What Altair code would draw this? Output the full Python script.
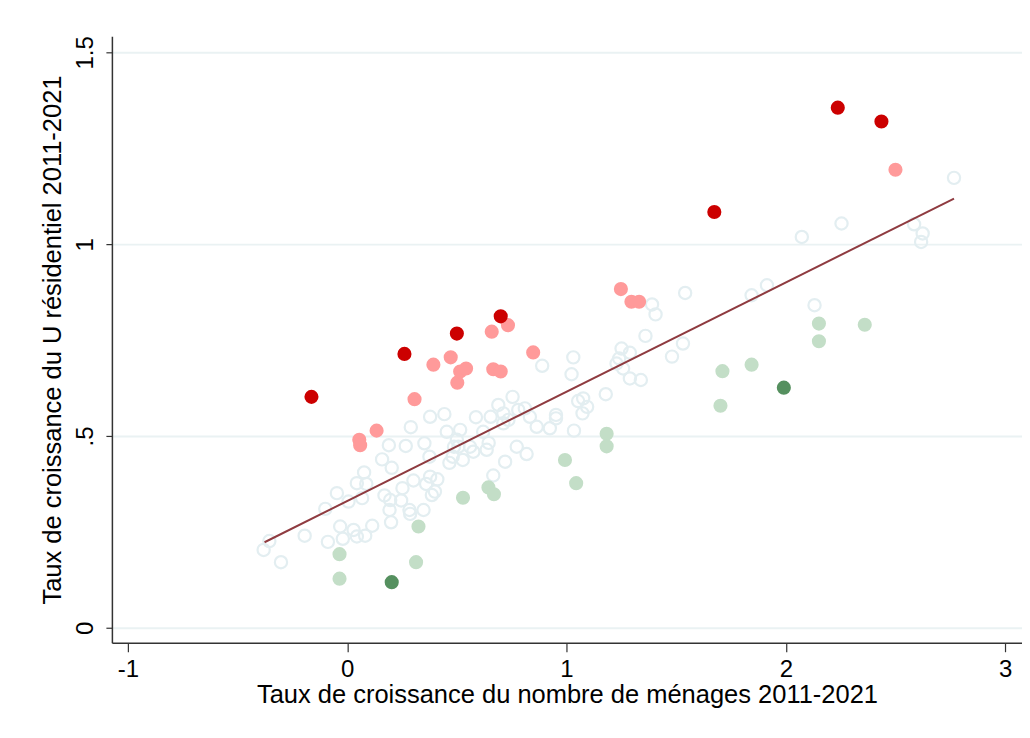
import altair as alt
import pandas as pd

# Open circles (other communes)
open_x = [-0.381, -0.355, -0.302, -0.194, -0.10, -0.088, -0.047, -0.032, -0.02, 0.006, 0.029, 0.044, 0.082,
          0.044, 0.077, 0.087, 0.068, 0.114, 0.159, 0.19, 0.203, 0.17, 0.196, 0.193, 0.20, 0.246, 0.252, 0.267,
          0.284, 0.287, 0.29, 0.302, 0.348, 0.352, 0.36, 0.375, 0.378, 0.411, 0.386, 0.40, 0.378, 0.443, 0.454,
          0.466, 0.481, 0.487, 0.507, 0.515, 0.50, 0.527, 0.56, 0.575, 0.587, 0.62, 0.636, 0.645, 0.654, 0.666,
          0.689, 0.712, 0.735, 0.712, 0.72, 0.754, 0.773, 0.78, 0.81, 0.833, 0.818, 0.864, 0.889, 0.924, 0.952,
          0.952, 1.034, 1.053, 1.076, 1.094, 1.073, 1.179, 1.031, 1.023, 1.251, 1.289, 1.24, 1.228, 1.258, 1.289,
          1.339, 1.36, 1.531, 1.481, 1.39, 1.406, 1.541, 1.914, 1.844, 2.131, 2.073, 2.254, 2.585, 2.624, 2.617,
          2.767]
open_y = [0.203, 0.226, 0.171, 0.240, 0.31, 0.224, 0.351, 0.264, 0.232, 0.329, 0.255, 0.238, 0.24,
          0.377, 0.405, 0.375, 0.338, 0.266, 0.439, 0.476, 0.417, 0.345, 0.333, 0.307, 0.275, 0.332, 0.364, 0.474,
          0.307, 0.297, 0.523, 0.384, 0.307, 0.481, 0.375, 0.446, 0.394, 0.387, 0.346, 0.355, 0.55, 0.557, 0.511,
          0.43, 0.446, 0.472, 0.472, 0.516, 0.49, 0.4375, 0.472, 0.459, 0.549, 0.511, 0.464, 0.482, 0.55, 0.397,
          0.581, 0.559, 0.542, 0.533, 0.433, 0.602, 0.472, 0.568, 0.572, 0.55, 0.453, 0.524, 0.683, 0.52, 0.555,
          0.546, 0.514, 0.591, 0.598, 0.576, 0.559, 0.609, 0.705, 0.661, 0.728, 0.717, 0.702, 0.689, 0.676, 0.650,
          0.646, 0.761, 0.741, 0.707, 0.843, 0.817, 0.873, 0.893, 0.867, 0.841, 1.019, 1.054, 1.052, 1.028, 1.006,
          1.173]

# Light green (below the line)
lgreen_x = [-0.035, -0.035, 0.314, 0.325, 0.528, 0.644, 0.669, 0.993, 1.044, 1.183, 1.183, 1.702, 1.711,
            1.844, 2.151, 2.151, 2.36]
lgreen_y = [0.192, 0.128, 0.171, 0.264, 0.339, 0.366, 0.348, 0.4375, 0.377, 0.506, 0.473, 0.579, 0.669,
            0.686, 0.793, 0.747, 0.79]

# Dark green (far below)
dgreen_x = [0.203, 1.991]
dgreen_y = [0.119, 0.626]

# Pink (above the line)
pink_x = [0.055, 0.059, 0.134, 0.307, 0.393, 0.472, 0.502, 0.515, 0.542, 0.666, 0.70, 0.659, 0.733, 0.848,
          1.248, 1.296, 1.331, 2.50]
pink_y = [0.49, 0.476, 0.514, 0.596, 0.686, 0.705, 0.639, 0.668, 0.676, 0.674, 0.668, 0.772, 0.789, 0.718,
          0.883, 0.85, 0.85, 1.194]

# Red (far above)
red_x = [-0.163, 0.261, 0.50, 0.70, 1.674, 2.237, 2.436]
red_y = [0.602, 0.714, 0.767, 0.812, 1.084, 1.356, 1.320]

# Linear fit endpoints
fit_x = [-0.377, 2.767]
fit_y = [0.223, 1.119]

X_TITLE = "Taux de croissance du nombre de ménages 2011-2021"
Y_TITLE = "Taux de croissance du U résidentiel 2011-2021"

xs = alt.Scale(domain=[-1.073, 3.077], nice=False, zero=False)
ys = alt.Scale(domain=[-0.039, 1.542], nice=False, zero=False)

FONT = "Liberation Sans"

xax = alt.Axis(values=[-1, 0, 1, 2, 3], title=X_TITLE, grid=False, tickSize=9, tickColor="#333333",
               domainColor="#333333", domainWidth=1.5, tickWidth=1.2, labelFontSize=24, labelColor="#000000",
               labelPadding=6, titleFontSize=25.5, titleFontWeight="normal", titleColor="#000000",
               titlePadding=1, labelFont=FONT, titleFont=FONT,
               labelExpr="toString(datum.value)")
yax = alt.Axis(values=[0, 0.5, 1, 1.5], title=Y_TITLE, grid=True, gridColor="#EAF2F3", gridWidth=2,
               tickSize=6, tickColor="#333333", domainColor="#333333", domainWidth=1.5, tickWidth=1.2,
               labelAngle=270, labelAlign="center", labelBaseline="bottom", labelFontSize=24,
               labelColor="#000000", labelPadding=8,
               labelExpr="datum.value == 0.5 ? '.5' : toString(datum.value)",
               titleFontSize=25.5, titleFontWeight="normal", titleColor="#000000", titlePadding=8,
               labelFont=FONT, titleFont=FONT)


def pts(xv, yv):
    return pd.DataFrame({"x": xv, "y": yv})


base_enc = dict(x=alt.X("x:Q", scale=xs, axis=xax), y=alt.Y("y:Q", scale=ys, axis=yax))

open_l = alt.Chart(pts(open_x, open_y)).mark_point(shape="circle", filled=False, size=150, strokeWidth=2.2,
                                                    color="#E3EEF1", opacity=1).encode(**base_enc)
lg_l = alt.Chart(pts(lgreen_x, lgreen_y)).mark_circle(size=200, color="#C3DEC7", opacity=1).encode(**base_enc)
dg_l = alt.Chart(pts(dgreen_x, dgreen_y)).mark_circle(size=200, color="#55905F", opacity=1).encode(**base_enc)
pk_l = alt.Chart(pts(pink_x, pink_y)).mark_circle(size=200, color="#FF9A9A", opacity=1).encode(**base_enc)
rd_l = alt.Chart(pts(red_x, red_y)).mark_circle(size=200, color="#CC0000", opacity=1).encode(**base_enc)
fit_l = alt.Chart(pts(fit_x, fit_y)).mark_line(color="#8F3B40", strokeWidth=2).encode(**base_enc)

chart = alt.layer(open_l, lg_l, dg_l, pk_l, rd_l, fit_l).properties(
    width=911, height=607,
    autosize=alt.AutoSizeParams(type="none"),
    padding={"left": 104, "top": 28, "right": 0, "bottom": 90},
    background="#FFFFFF",
).configure_view(stroke=None)

chart.save("out.html", embed_options={"renderer": "svg", "actions": False})
